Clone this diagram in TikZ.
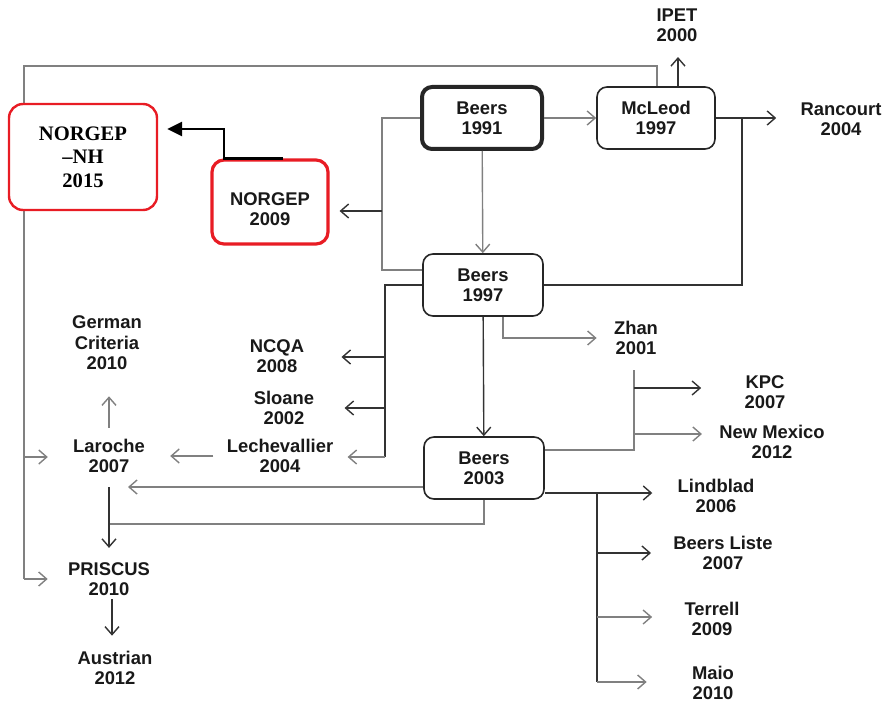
\documentclass[tikz,border=0pt]{standalone}
\usepackage{fontspec}
\setmainfont{Liberation Sans}
\newfontfamily\crserif{Liberation Serif}
\usetikzlibrary{arrows.meta}

\newcommand\crfont{\fontsize{9.2}{10.2}\selectfont\bfseries}
\newcommand\crnhfont{\crserif\fontsize{10.3}{11.7}\selectfont\bfseries}

\definecolor{crred}{RGB}{232,28,36}

\tikzset{
  crbox/.style={draw=black!85, line width=.8pt, rounded corners=5pt, fill=white,
    minimum width=60pt, minimum height=31pt, inner sep=1pt, align=center,
    font=\crfont, text=black!90},
  crlabel/.style={inner sep=1pt, align=center, font=\crfont, text=black!90},
  credge/.style={line width=.7pt, draw=black!50},
  credgedark/.style={line width=.7pt, draw=black!80},
  crtip/.style={-{Straight Barb[length=4pt,width=7pt]}}
}

\begin{document}
\begin{tikzpicture}[x=.5pt, y=-.5pt]
\useasboundingbox (0,0) rectangle (894,706);

\node[crbox, line width=2pt] (b91) at (482,118) {Beers\\1991};
\node[crbox, minimum width=59pt] (mcl) at (656,118) {McLeod\\1997};
\node[crbox] (b97) at (483,285) {Beers\\1997};
\node[crbox] (b03) at (484,468) {Beers\\2003};
\node[crbox, draw=crred, line width=1.6pt, rounded corners=6pt, minimum width=58pt, minimum height=42pt, text height=24pt] (ng09) at (270,202) {NORGEP\\2009};

\coordinate (fr1) at (657,66);
\coordinate (fr2) at (24,66);
\coordinate (fr3) at (24,457);
\coordinate (fr4) at (24,579);
\draw[credge] (mcl.north -| fr1) -- (fr1) -- (fr2) -- (fr4);

\node[crbox, draw=crred, line width=1.2pt, rounded corners=7pt, minimum width=74pt, minimum height=53pt, font=\crnhfont, text=black] (nh15) at (83,157) {NORGEP\\\textendash NH\\2015};

\node[crlabel] (ipet) at (677,25) {IPET\\2000};
\node[crlabel] (ranc) at (841,119) {Rancourt\\2004};
\node[crlabel] (zhan) at (636,338) {Zhan\\2001};
\node[crlabel] (germ) at (107,343) {German\\Criteria\\2010};
\node[crlabel] (ncqa) at (277,356) {NCQA\\2008};
\node[crlabel] (sloa) at (284,408) {Sloane\\2002};
\node[crlabel] (lech) at (280,456) {Lechevallier\\2004};
\node[crlabel] (laro) at (109,456) {Laroche\\2007};
\node[crlabel] (kpc) at (765,392) {KPC\\2007};
\node[crlabel] (nmex) at (772,442) {New Mexico\\2012};
\node[crlabel] (lind) at (716,496) {Lindblad\\2006};
\node[crlabel] (blis) at (723,553) {Beers Liste\\2007};
\node[crlabel] (terr) at (712,619) {Terrell\\2009};
\node[crlabel] (maio) at (713,683) {Maio\\2010};
\node[crlabel] (pris) at (109,579) {PRISCUS\\2010};
\node[crlabel] (aust) at (115,668) {Austrian\\2012};

\coordinate (lj1) at (382,211);
\coordinate (lj2) at (382,270);
\coordinate (bj1) at (385,357);
\coordinate (bj2) at (385,408);
\coordinate (bj3) at (385,457);
\coordinate (rj) at (742,118);
\coordinate (kj0) at (634,370);
\coordinate (kj1) at (634,388);
\coordinate (kj2) at (634,434);
\coordinate (mj1) at (597,553);
\coordinate (mj2) at (597,617);
\coordinate (mj3) at (597,682);
\coordinate (lj03) at (128,487);
\coordinate (pj) at (109,524);
\coordinate (nj) at (224,129);

\draw[credge, crtip, shorten >=11.5pt] (fr3) -- (fr3 -| laro.west);
\draw[credge, crtip, shorten >=9pt] (fr4) -- (fr4 -| pris.west);

\draw[credge, crtip] (b91.east) -- (mcl.west);
\draw[credgedark, crtip, shorten >=6.5pt] ([xshift=11pt]mcl.north) -- ([xshift=11pt]mcl.north |- ipet.south);
\draw[credgedark, crtip, shorten >=11pt] (mcl.east) -- (mcl.east -| ranc.west);
\draw[credgedark] (b97.east) -| (rj);

\draw[credge] (b91.west) -| (lj2) -- (lj2 -| b97.west);
\draw[credgedark, crtip, shorten >=5pt] (lj1) -- (lj1 -| ng09.east);
\draw[credge, crtip] (b91) -- (b97);

\draw[credgedark] (b97.west) -| (bj3);
\draw[credgedark, crtip, shorten >=17.5pt] (bj1) -- (bj1 -| ncqa.east);
\draw[credgedark, crtip, shorten >=14pt] (bj2) -- (bj2 -| sloa.east);
\draw[credge, crtip, shorten >=6pt] (bj3) -- (bj3 -| lech.east);
\draw[credge, crtip, shorten >=7.5pt] ([xshift=10pt]b97.south) |- (zhan.west);
\draw[credgedark, crtip] (b97) -- (b03);

\draw[credge] ([yshift=9pt]b03.east) -| (kj0);
\draw[credgedark, crtip, shorten >=20.5pt] (kj1) -- (kj1 -| kpc.west);
\draw[credge, crtip, shorten >=7.5pt] (kj2) -- (kj2 -| nmex.west);

\draw[credgedark, crtip, shorten >=11.5pt] ([yshift=-12.5pt]b03.east) -- ([yshift=-12.5pt]b03.east -| lind.west);
\draw[credgedark] ([yshift=-12.5pt]b03.east -| mj3) -- (mj3);
\draw[credgedark, crtip, shorten >=10pt] (mj1) -- (mj1 -| blis.west);
\draw[credge, crtip, shorten >=15pt] (mj2) -- (mj2 -| terr.west);
\draw[credge, crtip, shorten >=21.5pt] (mj3) -- (mj3 -| maio.west);

\draw[credge, crtip] ([yshift=-9.5pt]b03.west) -- (lj03);
\draw[credge] (b03.south) |- (pj);
\draw[credgedark, crtip, shorten <=6pt, shorten >=6pt] (laro.south) -- (pris.north);
\draw[credge, crtip, shorten <=4.5pt, shorten >=12pt] (laro.north) -- (laro.north |- germ.south);
\draw[credge, crtip, shorten <=5.5pt, shorten >=11.5pt] (lech.west) -- (lech.west -| laro.east);
\draw[credgedark, crtip, shorten <=.5pt, shorten >=6.5pt] ([xshift=1.5pt]pris.south) -- ([xshift=1.5pt]pris.south |- aust.north);

\draw[black, line width=1.4pt, -{Triangle[length=7.5pt,width=7pt]}, shorten >=4.5pt] ([xshift=6.5pt]ng09.north) -| (nj) -- (nj -| nh15.east);
\end{tikzpicture}
\end{document}
